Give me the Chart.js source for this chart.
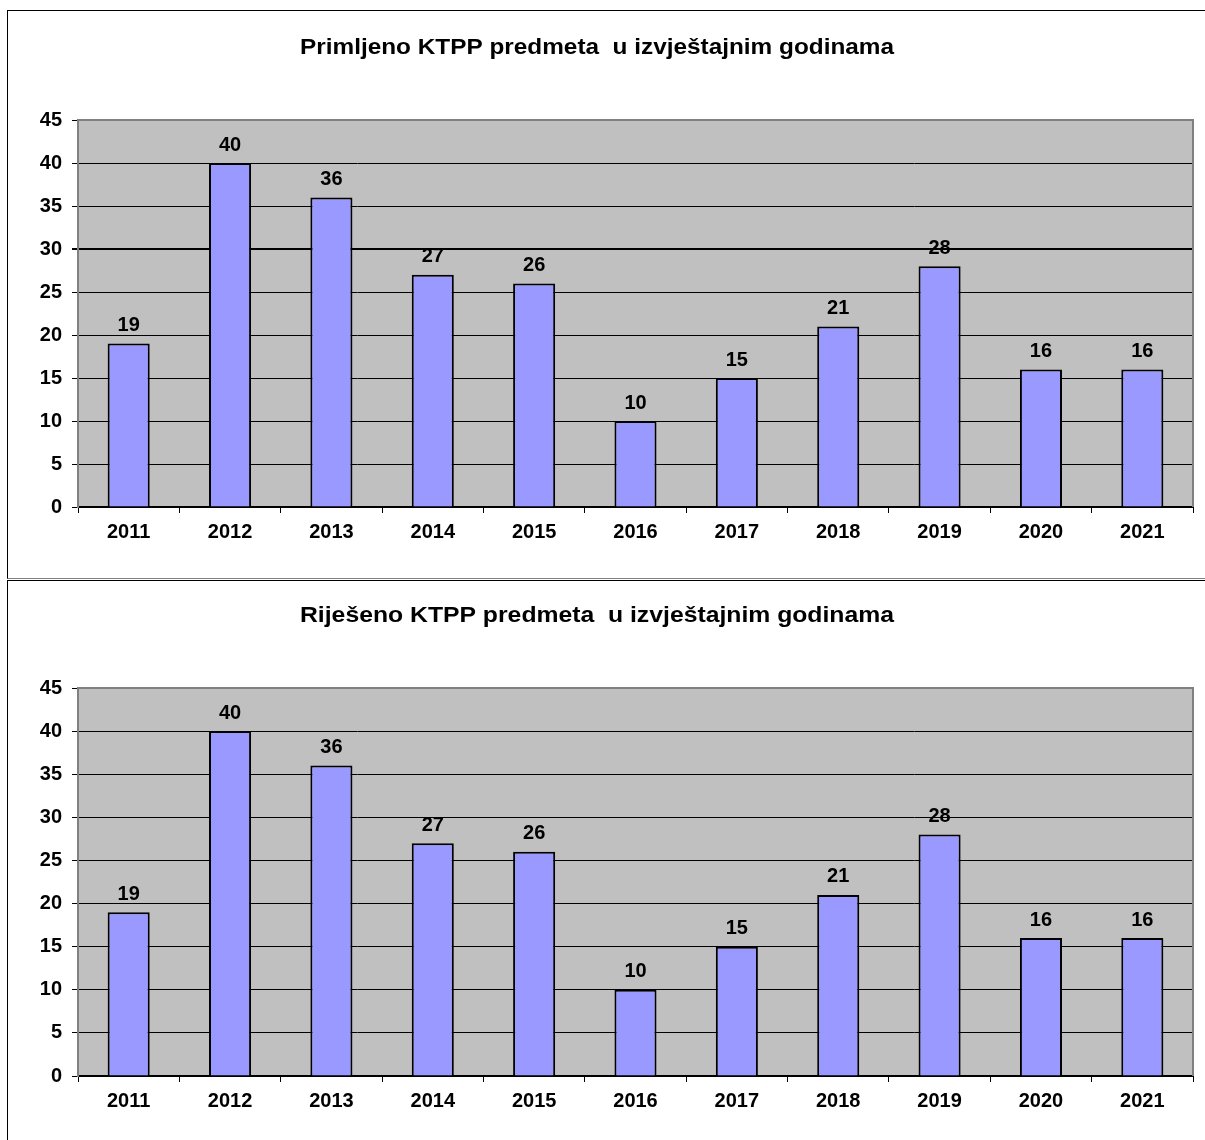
<!DOCTYPE html>
<html>
<head>
<meta charset="utf-8">
<script src="https://cdn.jsdelivr.net/npm/chart.js@4.4.1/dist/chart.umd.min.js"></script>
<style>
  body { margin: 0; background: #fff; overflow: hidden; width: 1205px; height: 1140px; position: relative; }
  .frame { position: absolute; left: 7px; width: 1210px; border: 1px solid #000; box-sizing: border-box; background: #fff; }
  #frame1 { top: 10px; height: 569px; border-bottom-color: #808080; }
  #frame2 { top: 580px; height: 600px; }
  canvas { position: absolute; left: 0; top: 0; }
</style>
</head>
<body>
<div class="frame" id="frame1"><canvas id="myChart1" width="1197" height="566"></canvas></div>
<div class="frame" id="frame2"><canvas id="myChart2" width="1197" height="565"></canvas></div>
<script>
// chart data
const years = ["2011", "2012", "2013", "2014", "2015", "2016", "2017", "2018", "2019", "2020", "2021"];
const primljeno = [19, 40, 36, 27, 26, 10, 15, 21, 28, 16, 16];
const rijeseno = [19, 40, 36, 27, 26, 10, 15, 21, 28, 16, 16];
const yMax = 45;
const yStep = 5;
const title1 = "Primljeno KTPP predmeta  u izvještajnim godinama";
const title2 = "Riješeno KTPP predmeta  u izvještajnim godinama";

const FONT = "'Liberation Sans', Arial, sans-serif";

// gray plot area + value labels + title
const excelLook = {
  id: "excelLook",
  beforeDraw(chart) {
    const a = chart.chartArea;
    const ctx = chart.ctx;
    ctx.save();
    ctx.fillStyle = "#C0C0C0";
    ctx.fillRect(a.left, a.top, a.right - a.left, a.bottom - a.top);
    ctx.restore();
  },
  beforeDatasetsDraw(chart) {
    const a = chart.chartArea;
    const ctx = chart.ctx;
    ctx.save();
    ctx.strokeStyle = "#808080";
    ctx.lineWidth = 2;
    ctx.beginPath();
    ctx.moveTo(a.left, a.top);
    ctx.lineTo(a.right, a.top);
    ctx.lineTo(a.right, a.bottom);
    ctx.stroke();
    ctx.restore();
  },
  afterDatasetsDraw(chart) {
    const ctx = chart.ctx;
    const meta = chart.getDatasetMeta(0);
    const data = chart.data.datasets[0].data;
    ctx.save();
    ctx.fillStyle = "#000";
    ctx.font = "bold 20px " + FONT;
    ctx.textAlign = "center";
    ctx.textBaseline = "bottom";
    meta.data.forEach(function (bar, i) {
      ctx.fillText(String(data[i]), bar.x, bar.y - 8);
    });
    ctx.restore();
  },
  afterDraw(chart) {
    const ctx = chart.ctx;
    const opts = chart.options.plugins.excelLook;
    ctx.save();
    ctx.fillStyle = "#000";
    ctx.font = "bold 22px " + FONT;
    ctx.textAlign = "center";
    ctx.textBaseline = "middle";
    // the original title is slightly stretched horizontally
    const w = ctx.measureText(opts.text).width;
    const sx = opts.width / w;
    ctx.translate(opts.x, opts.y);
    ctx.scale(sx, 1);
    ctx.fillText(opts.text, 0, 0);
    ctx.restore();
  },
};

function makeChart(id, values, title, titleY, padTop, thickLine) {
  const ctx = document.getElementById(id).getContext("2d");
  return new Chart(ctx, {
    type: "bar",
    data: {
      labels: years,
      datasets: [
        {
          data: values,
          backgroundColor: "#9999FF",
          borderColor: "#000",
          borderWidth: 2,
          barPercentage: 0.415,
          categoryPercentage: 1,
        },
      ],
    },
    options: {
      responsive: false,
      animation: false,
      devicePixelRatio: 1,
      layout: { padding: { top: padTop, left: 0, right: 12, bottom: 0 } },
      plugins: {
        legend: { display: false },
        tooltip: { enabled: false },
        excelLook: { text: title, x: 589, y: titleY, width: 594 },
      },
      scales: {
        x: {
          afterFit: function (scale) { scale.height = 70; },
          grid: {
            offset: true,
            drawOnChartArea: false,
            drawTicks: true,
            tickLength: 6,
            color: "#000",
          },
          border: { color: "#000", width: 2 },
          ticks: {
            color: "#000",
            padding: 7,
            font: { family: FONT, size: 20, weight: "bold" },
          },
        },
        y: {
          min: 0,
          max: yMax,
          afterFit: function (scale) { scale.width = 70; },
          grid: {
            color: "#000",
            lineWidth: function (c) { return thickLine && c.tick && c.tick.value === 30 ? 2 : 1; },
            tickLength: 6,
          },
          border: { color: "#808080", width: 2 },
          ticks: {
            stepSize: yStep,
            color: "#000",
            padding: 10,
            font: { family: FONT, size: 20, weight: "bold" },
          },
        },
      },
    },
    plugins: [excelLook],
  });
}

makeChart("myChart1", primljeno, title1, 37, 109, true);
makeChart("myChart2", rijeseno, title2, 35, 107, false);
</script>
</body>
</html>
